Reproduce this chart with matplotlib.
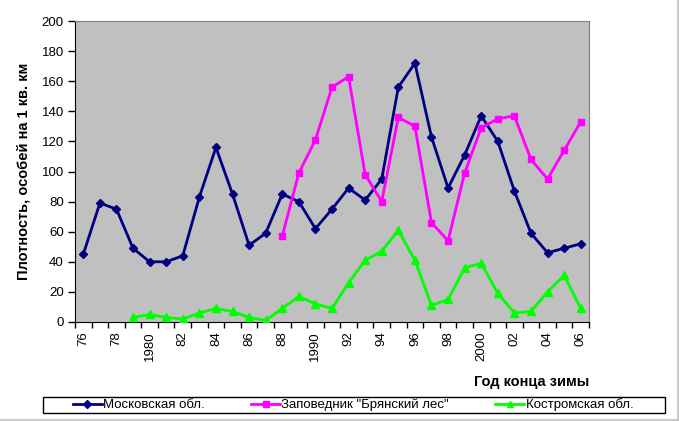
import matplotlib
matplotlib.use("Agg")
import matplotlib.pyplot as plt
from matplotlib.patches import Rectangle
from matplotlib.lines import Line2D
import numpy as np

plt.rcParams['font.family'] = ['Liberation Sans', 'DejaVu Sans']

years = list(range(1976, 2007))
year_labels = ['76', '78', '1980', '82', '84', '86', '88', '1990', '92', '94',
               '96', '98', '2000', '02', '04', '06']

moscow = [45, 79, 75, 49, 40, 40, 44, 83, 116, 85, 51, 59, 85, 80, 62, 75,
          89, 81, 95, 156, 172, 123, 89, 111, 137, 120, 87, 59, 46, 49, 52]

bryansk_start = 1988
bryansk = [57, 99, 121, 156, 163, 98, 80, 136, 130, 66, 54, 99, 129, 135,
           137, 108, 95, 114, 133]

kostroma_start = 1979
kostroma = [3, 5, 3, 2, 6, 9, 7, 3, 1, 9, 17, 12, 9, 26, 41, 47, 61, 41, 11,
            15, 36, 39, 19, 6, 7, 20, 31, 9]

series_names = ['Московская обл.', 'Заповедник "Брянский лес"', 'Костромская обл.']

x_all = np.arange(len(years))
x_br = np.arange(len(bryansk)) + years.index(bryansk_start)
x_ko = np.arange(len(kostroma)) + years.index(kostroma_start)

fig = plt.figure(figsize=(6.79, 4.21), dpi=100)
ax = fig.add_axes([75 / 679, 99 / 421, 514 / 679, 301 / 421])
ax.set_facecolor('#C0C0C0')

ax.plot(x_all, moscow, color='#000080', lw=2, marker='D', ms=4.5,
        label=series_names[0], zorder=3)
ax.plot(x_br, bryansk, color='#FF00FF', lw=2, marker='s', ms=5,
        label=series_names[1], zorder=3)
ax.plot(x_ko, kostroma, color='#00FF00', lw=2, marker='^', ms=5.5,
        label=series_names[2], zorder=3)

ax.set_xlim(-0.5, len(years) - 0.5)
ax.set_ylim(0, 200)
ax.set_yticks(np.arange(0, 201, 20))
ax.tick_params(axis='y', direction='out', length=5, width=1, labelsize=9.5, pad=3)

ax.set_xticks(x_all[::2])
ax.set_xticklabels(year_labels, rotation=90, fontsize=9.5)
ax.set_xticks(np.arange(-0.5, len(years), 1), minor=True)
ax.tick_params(axis='x', which='major', length=0, pad=7)
ax.tick_params(axis='x', which='minor', direction='out', length=4, width=1)

for s in ['top', 'right']:
    ax.spines[s].set_color('#808080')
ax.spines['left'].set_color('black')
ax.spines['bottom'].set_color('black')

ax.set_ylabel('Плотность, особей на 1 кв. км', fontsize=10.5, fontweight='bold',
              labelpad=8)
fig.text(589 / 679, 1 - 382 / 421, 'Год конца зимы', fontsize=10.5,
         fontweight='bold', ha='right', va='center')

# legend box
fig.patches.append(Rectangle((43 / 679, 1 - 413 / 421), 622 / 679, 16 / 421,
                             transform=fig.transFigure, fill=False,
                             edgecolor='black', lw=1))
fig.legend(loc='center', bbox_to_anchor=(353 / 679, 1 - 405 / 421), ncol=3,
           frameon=False, fontsize=9.5, handlelength=2.2, handletextpad=0.1,
           columnspacing=3.5, borderpad=0, markerscale=0.8)

# chart border (right and bottom only visible)
fig.lines.append(Line2D([0, 678 / 679], [0.6 / 421, 0.6 / 421],
                        transform=fig.transFigure, color='#C0C0C0', lw=1.2))
fig.lines.append(Line2D([678 / 679, 678 / 679], [0, 1],
                        transform=fig.transFigure, color='#C0C0C0', lw=1.2))

fig.savefig('out.png', dpi=100)
